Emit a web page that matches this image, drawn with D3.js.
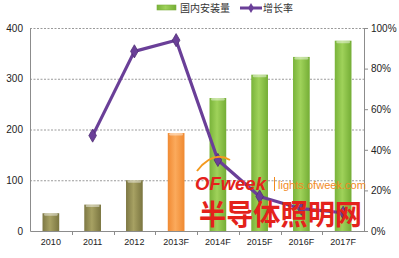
<!DOCTYPE html>
<html><head><meta charset="utf-8">
<script src="https://cdn.jsdelivr.net/npm/d3@7"></script>
<style>body{margin:0;background:#fff}svg{display:block}</style>
</head><body>
<script>
const categories = ["2010","2011","2012","2013F","2014F","2015F","2016F","2017F"];
const installs = [35, 52, 100, 193, 262, 308, 343, 375];
const growth = [null, 47, 88.5, 94, 35, 17, 11, 9];
const barKinds = ["hist","hist","hist","cur","fc","fc","fc","fc"];
const leftTicks = [0,100,200,300,400];
const rightTicks = [0,20,40,60,80,100];
const seriesNames = ["国内安装量","增长率"];

const W=399,H=258;
const m={l:30,r:35,t:28,b:27};
const svg=d3.select("body").append("svg").attr("width",W).attr("height",H);
const defs=svg.append("defs");
function grad(id,c0,c1,c2){
  const g=defs.append("linearGradient").attr("id",id).attr("x1","0").attr("x2","1").attr("y1","0").attr("y2","0");
  g.append("stop").attr("offset","0").attr("stop-color",c0);
  g.append("stop").attr("offset","0.45").attr("stop-color",c1);
  g.append("stop").attr("offset","1").attr("stop-color",c2);
}
grad("gHist","#7d7844","#a7a163","#7a7540");
grad("gCur","#f08a33","#fbaa5c","#ef8930");
grad("gFc","#79b33a","#9fd25a","#74ad35");
const fills={hist:"url(#gHist)",cur:"url(#gCur)",fc:"url(#gFc)"};

const x=d3.scaleBand().domain(categories).range([m.l,W-m.r]).paddingInner(0.6).paddingOuter(0.3);
const xc=d3.scaleBand().domain(categories).range([m.l,W-m.r]);
const y=d3.scaleLinear().domain([0,400]).range([H-m.b,m.t]);
const y2=d3.scaleLinear().domain([0,100]).range([H-m.b,m.t]);

// gridlines
svg.append("g").selectAll("line").data(leftTicks.filter(d=>d>0)).join("line")
  .attr("x1",m.l).attr("x2",W-m.r).attr("y1",d=>y(d)+0.5).attr("y2",d=>y(d)+0.5)
  .attr("stroke","#9a9a9a").attr("stroke-dasharray","2,1.5").attr("stroke-width",1);

// bars
svg.append("g").selectAll("rect").data(categories).join("rect")
  .attr("x",d=>x(d)).attr("width",x.bandwidth())
  .attr("y",(d,i)=>y(installs[i])).attr("height",(d,i)=>y(0)-y(installs[i]))
  .attr("fill",(d,i)=>fills[barKinds[i]]);
svg.append("g").selectAll("rect").data(categories).join("rect")
  .attr("x",d=>x(d)+1.5).attr("width",x.bandwidth()-3)
  .attr("y",(d,i)=>y(installs[i])).attr("height",2.5).attr("rx",1.2)
  .attr("fill","#fff").attr("opacity",0.45);

// axes
const fontF="'Liberation Sans','DejaVu Sans',sans-serif";
const gl=svg.append("g").attr("transform",`translate(${m.l},0)`)
  .call(d3.axisLeft(y).tickValues(leftTicks).tickSize(0).tickPadding(7));
gl.select(".domain").attr("stroke","#8c8c8c");
gl.selectAll("text").attr("font-size",10).attr("font-family",fontF).attr("fill","#222");

const gr=svg.append("g").attr("transform",`translate(${W-m.r},0)`)
  .call(d3.axisRight(y2).tickValues(rightTicks).tickSize(4).tickPadding(3).tickFormat(d=>d+"%"));
gr.selectAll(".domain,line").attr("stroke","#8c8c8c");
gr.selectAll("text").attr("font-size",10).attr("font-family",fontF).attr("fill","#222");

const gb=svg.append("g").attr("transform",`translate(0,${H-m.b})`)
  .call(d3.axisBottom(xc).tickSize(0).tickPadding(8));
gb.select(".domain").attr("stroke","#8c8c8c");
gb.selectAll("text").attr("font-size",9).attr("font-family",fontF).attr("fill","#222");
svg.append("g").selectAll("line").data(categories.slice(1)).join("line")
  .attr("x1",d=>Math.round(xc(d))+0.5).attr("x2",d=>Math.round(xc(d))+0.5)
  .attr("y1",H-m.b).attr("y2",H-m.b+4).attr("stroke","#8c8c8c");

// line
const pts=categories.map((c,i)=>({c,v:growth[i]})).filter(d=>d.v!=null);
const line=d3.line().x(d=>xc(d.c)+xc.bandwidth()/2).y(d=>y2(d.v));
svg.append("path").datum(pts).attr("d",line).attr("fill","none")
  .attr("stroke","#6a3f98").attr("stroke-width",3.2).attr("stroke-linejoin","round");
svg.append("g").selectAll("path").data(pts).join("path")
  .attr("d",d3.symbol(d3.symbolDiamond,50))
  .attr("transform",d=>`translate(${xc(d.c)+xc.bandwidth()/2},${y2(d.v)})`)
  .attr("fill","#6a3f98").attr("stroke","#503075").attr("stroke-width",0.8);

// legend
const lg=svg.append("g");
lg.append("rect").attr("x",157).attr("y",5).attr("width",19).attr("height",5).attr("fill","url(#gFc)").attr("stroke","#7cae3e").attr("stroke-width",0.6);
lg.append("text").attr("x",180).attr("y",12).text(seriesNames[0]).attr("font-size",10)
  .attr("font-family","'Noto Sans CJK SC',sans-serif").attr("fill","#333");
lg.append("line").attr("x1",240).attr("x2",262).attr("y1",8).attr("y2",8).attr("stroke","#6a3f98").attr("stroke-width",3);
lg.append("path").attr("d",d3.symbol(d3.symbolDiamond,30)).attr("transform","translate(251,8)").attr("fill","#6a3f98");
lg.append("text").attr("x",263).attr("y",12).text(seriesNames[1]).attr("font-size",10)
  .attr("font-family","'Noto Sans CJK SC',sans-serif").attr("fill","#333");

// watermark
const wm=svg.append("g");
wm.append("path").attr("d","M197,171 Q213,150 230,160").attr("fill","none").attr("stroke","#f39a1e").attr("stroke-width",2);
wm.append("text").attr("x",195).attr("y",190).text("OFweek").attr("font-size",18.5).attr("font-weight","bold")
  .attr("font-style","italic").attr("font-family","'Liberation Sans',Arial,sans-serif").attr("fill","#e4221b");
wm.append("line").attr("x1",274.5).attr("x2",274.5).attr("y1",177).attr("y2",191).attr("stroke","#f18b1f").attr("stroke-width",1);
wm.append("text").attr("x",278).attr("y",189).text("lights.ofweek.com").attr("font-size",10.5)
  .attr("textLength",88).attr("lengthAdjust","spacingAndGlyphs")
  .attr("font-family","'Liberation Sans',Arial,sans-serif").attr("fill","#f18b1f");
wm.append("text").attr("x",199).attr("y",225).text("半导体照明网").attr("font-size",28.5).attr("font-weight","bold")
  .attr("textLength",163).attr("lengthAdjust","spacingAndGlyphs")
  .attr("font-family","'Noto Sans CJK SC',sans-serif").attr("fill","#e4221b");
</script>
</body></html>
